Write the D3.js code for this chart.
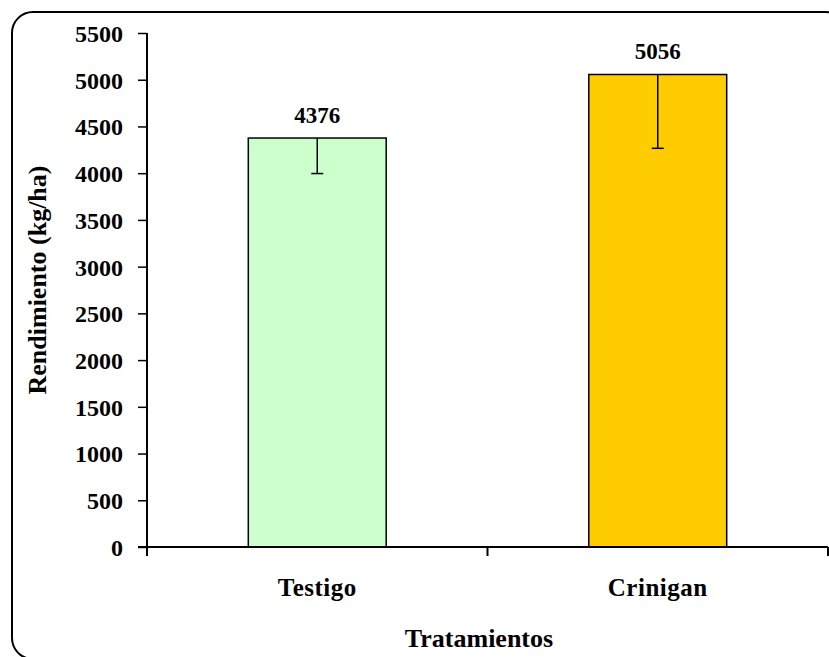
<!DOCTYPE html>
<html>
<head>
<meta charset="utf-8">
<script src="https://cdn.jsdelivr.net/npm/d3@7"></script>
<style>
  body { margin: 0; background: #fff; }
  text { font-family: "Liberation Serif", "Times New Roman", serif; font-weight: bold; fill: #000; }
</style>
</head>
<body>
<div id="chart"></div>
<script>
// data
var categories = ["Testigo", "Crinigan"];
var values = [4376, 5056];
var errMinus = [380, 790];
var barColors = ["#ccffcc", "#ffcc00"];
var yTicks = [0, 500, 1000, 1500, 2000, 2500, 3000, 3500, 4000, 4500, 5000, 5500];

var W = 829, H = 657;
var svg = d3.select("#chart").append("svg")
    .attr("width", W).attr("height", H);

// outer rounded frame (runs off the right / bottom edges)
svg.append("rect")
    .attr("x", 12).attr("y", 12)
    .attr("width", 835).attr("height", 647)
    .attr("rx", 21).attr("ry", 21)
    .attr("fill", "none").attr("stroke", "#000").attr("stroke-width", 2);

var plot = { left: 147, right: 828, top: 33, bottom: 547 };

var x = d3.scaleBand()
    .domain(categories)
    .range([plot.left, plot.right])
    .paddingInner(0.595).paddingOuter(0.2975);

var y = d3.scaleLinear()
    .domain([0, 5500])
    .range([plot.bottom, plot.top]);

// bars
svg.selectAll(".bar")
    .data(categories)
    .enter().append("rect")
    .attr("class", "bar")
    .attr("x", d => x(d))
    .attr("y", (d, i) => y(values[i]))
    .attr("width", x.bandwidth())
    .attr("height", (d, i) => y(0) - y(values[i]))
    .attr("fill", (d, i) => barColors[i])
    .attr("stroke", "#000").attr("stroke-width", 1.5);

// error bars (minus only)
var eb = svg.selectAll(".err").data(categories).enter().append("g");
eb.append("line")
    .attr("x1", d => x(d) + x.bandwidth() / 2)
    .attr("x2", d => x(d) + x.bandwidth() / 2)
    .attr("y1", (d, i) => y(values[i]))
    .attr("y2", (d, i) => y(values[i] - errMinus[i]))
    .attr("stroke", "#000").attr("stroke-width", 1.5);
eb.append("line")
    .attr("x1", d => x(d) + x.bandwidth() / 2 - 6)
    .attr("x2", d => x(d) + x.bandwidth() / 2 + 6)
    .attr("y1", (d, i) => y(values[i] - errMinus[i]))
    .attr("y2", (d, i) => y(values[i] - errMinus[i]))
    .attr("stroke", "#000").attr("stroke-width", 1.5);

// value labels
svg.selectAll(".val").data(categories).enter().append("text")
    .attr("x", d => x(d) + x.bandwidth() / 2)
    .attr("y", (d, i) => y(values[i]) - 15)
    .attr("text-anchor", "middle")
    .style("font-size", "23px")
    .text((d, i) => values[i]);

// y axis
var yAxis = svg.append("g")
    .attr("transform", "translate(" + plot.left + ",0)")
    .call(d3.axisLeft(y).tickValues(yTicks).tickSize(9).tickPadding(15).tickFormat(d3.format("d")));
yAxis.select(".domain").attr("stroke", "#000").attr("stroke-width", 2)
    .attr("d", "M0," + plot.top + "V" + (plot.bottom + 8));
yAxis.selectAll(".tick line").attr("stroke-width", 1.5);
yAxis.selectAll("text")
    .style("font-size", "24px")
    .style("font-family", "Liberation Serif")
    .style("font-weight", "bold")
    .attr("dy", "0.35em");

// x axis
svg.append("line")
    .attr("x1", plot.left - 9).attr("x2", plot.right)
    .attr("y1", plot.bottom).attr("y2", plot.bottom)
    .attr("stroke", "#000").attr("stroke-width", 2);
var xTickPos = [plot.left, (plot.left + plot.right) / 2, plot.right];
svg.selectAll(".xt").data(xTickPos).enter().append("line")
    .attr("x1", d => d).attr("x2", d => d)
    .attr("y1", plot.bottom).attr("y2", plot.bottom + 9)
    .attr("stroke", "#000").attr("stroke-width", 2);

svg.selectAll(".cat").data(categories).enter().append("text")
    .attr("x", d => x(d) + x.bandwidth() / 2)
    .attr("y", 596)
    .attr("text-anchor", "middle")
    .style("font-size", "25px")
    .style("letter-spacing", "0.5px")
    .text(d => d);

// axis titles
svg.append("text")
    .attr("x", 479).attr("y", 647)
    .attr("text-anchor", "middle")
    .style("font-size", "26px")
    .text("Tratamientos");

svg.append("text")
    .attr("transform", "translate(46,280) rotate(-90)")
    .attr("text-anchor", "middle")
    .style("font-size", "26px")
    .text("Rendimiento (kg/ha)");
</script>
</body>
</html>
